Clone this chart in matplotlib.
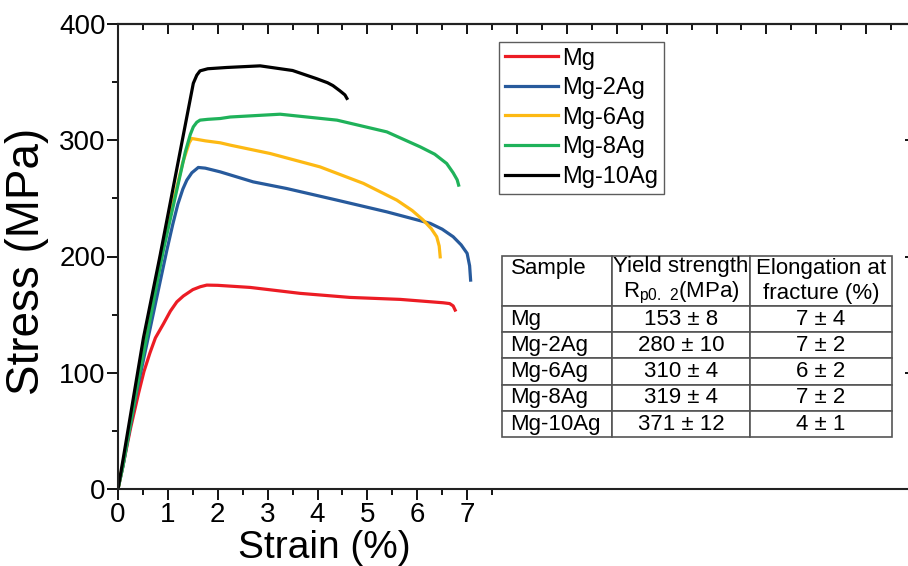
import numpy as np
import matplotlib
matplotlib.use('Agg')
import matplotlib.pyplot as plt
from matplotlib.ticker import MultipleLocator

plt.rcParams['font.family'] = ['Liberation Sans', 'DejaVu Sans']
plt.rcParams['mathtext.fontset'] = 'custom'
plt.rcParams['mathtext.rm'] = 'Liberation Sans'

# stress-strain curves
mg_strain = [0, 0.1, 0.25, 0.41, 0.52, 0.64, 0.75, 0.91, 1.05, 1.18, 1.31, 1.5, 1.65, 1.78, 2.0, 2.65, 3.65,
             4.65, 5.66, 6.52, 6.65, 6.72, 6.76]
mg_stress = [0, 20, 52, 82, 101, 117, 130, 142, 153, 161, 166, 171.5, 174, 175.4, 175.2, 173.4, 168.3,
             164.8, 163.1, 160.2, 159.5, 157.5, 153.9]

ag2_strain = [0, 0.1, 0.38, 0.98, 1.1, 1.2, 1.3, 1.38, 1.48, 1.61, 1.75, 2.05, 2.71, 3.38, 4.39, 5.39,
              6.26, 6.5, 6.72, 6.88, 7.0, 7.05, 7.07]
ag2_stress = [0, 20, 85, 205.5, 228, 245, 258, 265.7, 272, 276.6, 276, 272.8, 264.2, 258.5, 248.5, 238.4,
              228.5, 223.5, 217, 210, 202.7, 192, 179.7]

ag6_strain = [0, 0.1, 0.37, 0.875, 1.3, 1.38, 1.43, 1.48, 1.55, 1.75, 2.05, 2.25, 3.05, 4.05, 4.92, 5.59,
              5.9, 6.12, 6.28, 6.39, 6.44, 6.46]
ag6_stress = [0, 22, 88, 205.5, 281, 291.5, 298, 301.5, 301, 299.5, 297.8, 295.8, 288.6, 277.1, 262.9, 248.5,
              239.5, 231.3, 224, 217, 209, 199.7]

ag8_strain = [0, 0.1, 0.37, 0.91, 1.35, 1.45, 1.51, 1.58, 1.645, 1.8, 2.05, 2.25, 3.25, 4.39, 5.39, 6.06,
              6.35, 6.59, 6.72, 6.8, 6.83]
ag8_stress = [0, 20, 85, 205.5, 290, 305, 311.5, 315.5, 317.3, 318, 318.7, 320, 322.4, 317.3, 307.2, 294.3,
              288, 280, 272, 266, 261.4]

ag10_strain = [0, 0.1, 0.51, 0.84, 1.51, 1.58, 1.645, 1.8, 2.18, 2.85, 3.5, 3.98, 4.2, 4.31, 4.45, 4.55, 4.59]
ag10_stress = [0, 25, 130, 200, 349, 356, 359.7, 361.5, 362.6, 364, 360, 353, 349.5, 347, 342.5, 339, 336]

labels = ['Mg', 'Mg-2Ag', 'Mg-6Ag', 'Mg-8Ag', 'Mg-10Ag']
colors = ['#ec1c24', '#275a9c', '#fdb913', '#1fb25a', '#000000']

# table contents
yield_strength = ['153 \u00b1 8', '280 \u00b1 10', '310 \u00b1 4', '319 \u00b1 4', '371 \u00b1 12']
elongation = ['7 \u00b1 4', '7 \u00b1 2', '6 \u00b1 2', '7 \u00b1 2', '4 \u00b1 1']

fig = plt.figure(figsize=(9.08, 5.66), dpi=100)
ax = fig.add_axes([118/908, 77/566, 798/908, 465/566])

curves = [(mg_strain, mg_stress), (ag2_strain, ag2_stress), (ag6_strain, ag6_stress),
          (ag8_strain, ag8_stress), (ag10_strain, ag10_stress)]
for (x, y), lab, c in zip(curves, labels, colors):
    ax.plot(x, y, color=c, lw=2.3, label=lab, solid_joinstyle='round')

ax.set_xlim(0, 16)
ax.set_ylim(0, 400)
ax.set_xticks(range(0, 8))
ax.set_xticks(np.arange(0.5, 8, 1), minor=True)
ax.yaxis.set_major_locator(MultipleLocator(100))
ax.yaxis.set_minor_locator(MultipleLocator(50))
ax.tick_params(which='major', length=8, width=1.3, labelsize=20, direction='out', pad=1)
ax.tick_params(which='minor', length=4, width=1.3, direction='out')
for s in ax.spines.values():
    s.set_linewidth(1.5)
    s.set_color('#222222')

top = ax.secondary_xaxis('top')
top.xaxis.set_major_locator(MultipleLocator(1))
top.xaxis.set_minor_locator(MultipleLocator(0.5))
top.tick_params(which='major', direction='in', length=7, width=1.3, labeltop=False)
top.tick_params(which='minor', direction='in', length=4, width=1.3)
top.spines['top'].set_linewidth(1.5)

right = ax.secondary_yaxis('right')
right.yaxis.set_major_locator(MultipleLocator(100))
right.yaxis.set_minor_locator(MultipleLocator(50))
right.tick_params(which='major', direction='in', length=8, width=1.3, labelright=False)
right.tick_params(which='minor', direction='in', length=4, width=1.3)

ax.set_xlabel('Strain (%)', fontsize=28)
ax.xaxis.set_label_coords(0.258, -0.088)
ax.set_ylabel('Stress (MPa)', fontsize=33)
ax.yaxis.set_label_coords(-0.087, 0.49)

ax.legend(loc='upper left', bbox_to_anchor=(0.478, 0.962), borderaxespad=0,
          fontsize=17, frameon=True, fancybox=False, edgecolor='#333333',
          handlelength=2.25, handletextpad=0.15, labelspacing=0.32, borderpad=0.25)
ax.get_legend().get_frame().set_linewidth(1.0)

cell_text = [['Sample', 'Yield strength\nR$_{\\mathregular{p0.\\ 2}}$(MPa)', 'Elongation at\nfracture (%)']]
for lab, ys, el in zip(labels, yield_strength, elongation):
    cell_text.append([lab, ys, el])

tbl = ax.table(cellText=cell_text, colWidths=[110, 138.5, 141.5], cellLoc='center',
               bbox=[(501.7-118)/798, (489-437.3)/465, 390/798, 181.3/465])
tbl.auto_set_font_size(False)
tbl.set_fontsize(16)
for (r, c), cell in tbl.get_celld().items():
    cell.set_edgecolor('#555555')
    cell.set_linewidth(1.2)
    cell.set_height(50 if r == 0 else 26.3)
    if c == 0:
        cell.get_text().set_ha('left')
        cell._loc = 'left'
        cell.PAD = 0.08
    if r == 0 and c == 0:
        cell.get_text().set_text('Sample\n ')

fig.savefig('out.png', dpi=100)
